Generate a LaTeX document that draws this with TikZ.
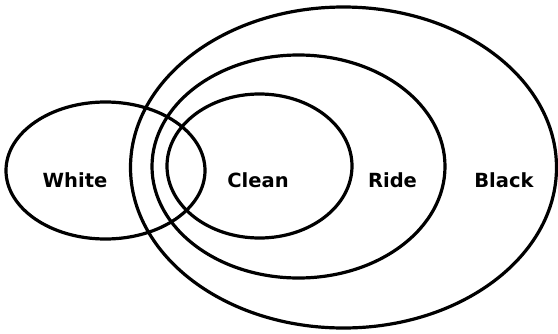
\documentclass[tikz,border=0pt]{standalone}
\usepackage{fontspec}
\setmainfont{DejaVu Sans}
\usepackage{tikz}

\begin{document}
\begin{tikzpicture}[x=1pt, y=-1pt,
    set/.style={line width=3.2pt},
    lbl/.style={inner sep=0pt, font=\bfseries\fontsize{19.5}{21}\selectfont}]
    \useasboundingbox (0,0) rectangle (558,333);

    % The four sets
    \draw[set] (105.5,170.5) ellipse [x radius=99.5, y radius=68.5];
    \draw[set] (259.5,166) ellipse [x radius=92.5, y radius=72];
    \draw[set] (298.5,166.5) ellipse [x radius=146.5, y radius=111.5];
    \draw[set] (343.5,167.5) ellipse [x radius=213, y radius=160.5];

    % Labels
    \node[lbl] (white) at (75,180) {White};
    \node[lbl] (clean) at (258,180) {Clean};
    \node[lbl] (ride)  at (392.5,180) {Ride};
    \node[lbl] (black) at (504,180) {Black};

\end{tikzpicture}
\end{document}
